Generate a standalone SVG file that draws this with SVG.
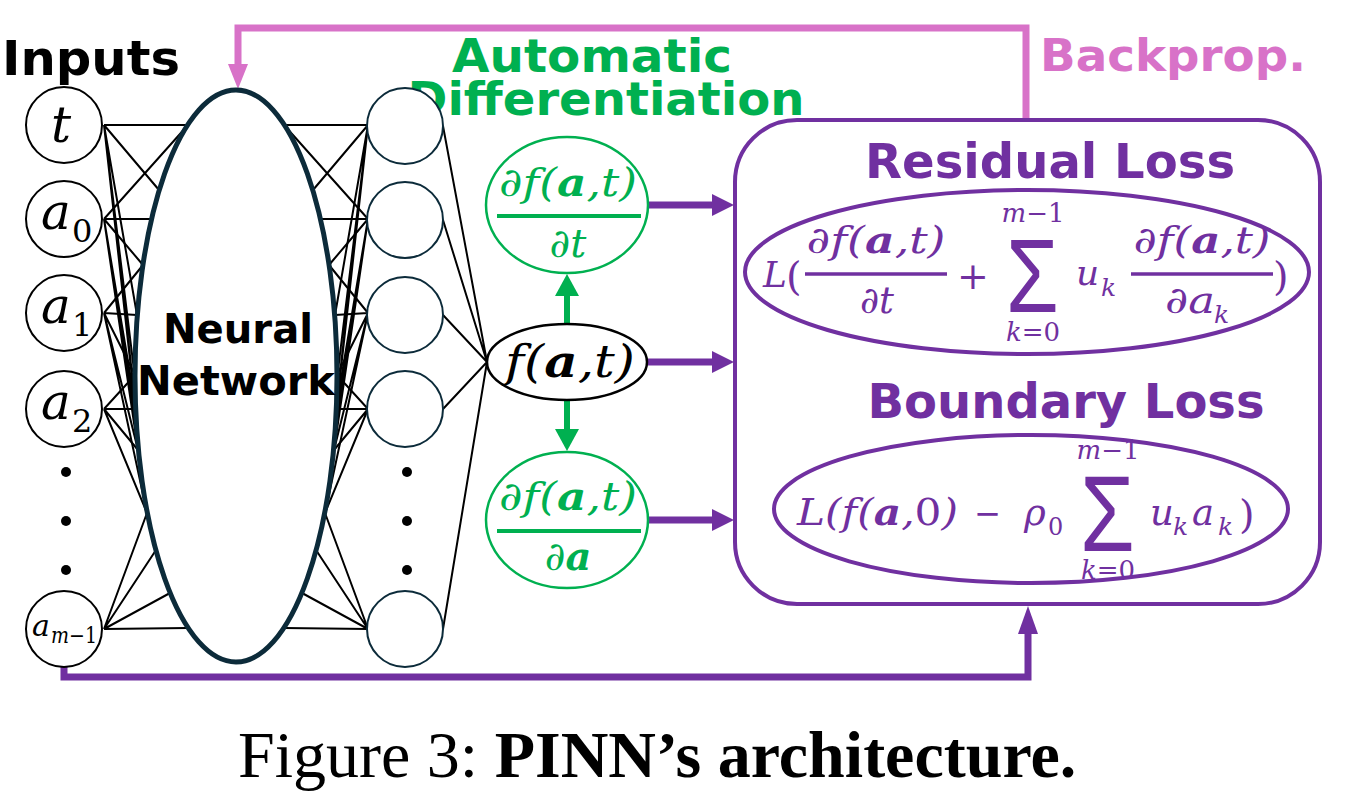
<svg xmlns="http://www.w3.org/2000/svg" xmlns:xlink="http://www.w3.org/1999/xlink" width="1346" height="795" viewBox="0 0 1346 795">
<style>
.lnk{stroke:#000;stroke-width:2;fill:none}
.inn{fill:#fff;stroke:#000;stroke-width:2}
.hid{fill:#fff;stroke:#0c2b3a;stroke-width:2}
.dot{fill:#000}
.hdr{font-family:"DejaVu Sans",Verdana,sans-serif;font-weight:bold}
.m{font-family:"DejaVu Serif","Liberation Serif",serif;font-style:italic}
.up{font-family:"DejaVu Serif","Liberation Serif",serif;font-style:normal}
.sig{font-family:"Liberation Sans",Arial,sans-serif;font-style:normal}
.g{fill:#00b050}
.p{fill:#7030a0}
.b{font-weight:bold}
</style>
<defs>
<marker id="hg" markerUnits="userSpaceOnUse" markerWidth="22" markerHeight="24" refX="0" refY="12" orient="auto" viewBox="0 0 22 24"><path d="M0,0 L22,12 L0,24 z" fill="#00b050"/></marker>
<marker id="hp" markerUnits="userSpaceOnUse" markerWidth="22" markerHeight="22" refX="0" refY="11" orient="auto" viewBox="0 0 22 22"><path d="M0,0 L22,11 L0,22 z" fill="#7030a0"/></marker>
<marker id="hp2" markerUnits="userSpaceOnUse" markerWidth="28" markerHeight="20" refX="0" refY="10" orient="auto" viewBox="0 0 28 20"><path d="M0,0 L28,10 L0,20 z" fill="#7030a0"/></marker>
<marker id="hk" markerUnits="userSpaceOnUse" markerWidth="25" markerHeight="20" refX="0" refY="10" orient="auto" viewBox="0 0 25 20"><path d="M0,0 L25,10 L0,20 z" fill="#d872c8"/></marker>
</defs>
<rect width="1346" height="795" fill="#fff"/>

<g id="connectors">
 <g id="in-links" class="lnk">
  <path d="M104,125 L188,125 M104,125 L159,190 M104,125 L137,315 M104,125 L136,409 M104,125 L147,513 M104,125 L156,550"/>
  <path d="M104,219 L188,125 M104,219 L151,219 M104,219 L143,265 M104,219 L136,409 M104,219 L138,450 M104,219 L156,550"/>
  <path d="M104,313 L143,265 M104,313 L137,315 M104,313 L135,375 M104,313 L138,450 M104,313 L147,513"/>
  <path d="M104,409 L135,375 M104,409 L136,409 M104,409 L138,450 M104,409 L147,513"/>
  <path d="M104,629 L147,513 M104,629 L156,550 M104,629 L170,593 M104,629 L188,628"/>
 </g>
 <use xlink:href="#in-links" href="#in-links" transform="matrix(-1 0 0 1 472 0)"/>
 <g id="out-links" class="lnk">
  <path d="M443,126 L487,362 M443,220 L487,362 M443,315 L487,362 M443,409 L487,362 M443,629 L487,362"/>
 </g>
 <g id="autodiff-arrows" stroke="#00b050" stroke-width="6" fill="none">
  <line x1="567" y1="324" x2="567" y2="296" marker-end="url(#hg)"/>
  <line x1="567" y1="401" x2="567" y2="429" marker-end="url(#hg)"/>
 </g>
 <g id="loss-arrows" stroke="#7030a0" stroke-width="7" fill="none">
  <line x1="648" y1="205" x2="712" y2="205" marker-end="url(#hp)"/>
  <line x1="648" y1="362" x2="712" y2="362" marker-end="url(#hp)"/>
  <line x1="648" y1="520" x2="712" y2="520" marker-end="url(#hp)"/>
 </g>
 <path id="backprop" d="M1026,121 V28 H238 V64" stroke="#d872c8" stroke-width="7" fill="none" marker-end="url(#hk)"/>
 <path id="input-feed" d="M64,667 V677 H1028 V634" stroke="#7030a0" stroke-width="7" fill="none" marker-end="url(#hp2)"/>
</g>

<g id="inputs-label"><text class="hdr" x="2" y="75" font-size="48" textLength="178" lengthAdjust="spacingAndGlyphs">Inputs</text></g>
<g id="autodiff-label" class="hdr g">
 <text x="592" y="72" font-size="46" text-anchor="middle" textLength="280" lengthAdjust="spacingAndGlyphs">Automatic</text>
 <text x="606" y="115" font-size="46" text-anchor="middle" textLength="397" lengthAdjust="spacingAndGlyphs">Differentiation</text>
</g>
<g id="backprop-label"><text class="hdr" x="1040" y="71" font-size="45" fill="#d872c8" textLength="266" lengthAdjust="spacingAndGlyphs">Backprop.</text></g>

<g id="node-t"><circle class="inn" cx="64" cy="125" r="38"/><text class="m" x="61" y="142" font-size="50" text-anchor="middle">t</text></g>
<g id="node-a0"><circle class="inn" cx="64" cy="219" r="38"/><text class="m" x="41" y="229" font-size="50">a</text><text class="up" x="72" y="242" font-size="32">0</text></g>
<g id="node-a1"><circle class="inn" cx="64" cy="313" r="38"/><text class="m" x="41" y="323" font-size="50">a</text><text class="up" x="72" y="336" font-size="32">1</text></g>
<g id="node-a2"><circle class="inn" cx="64" cy="409" r="38"/><text class="m" x="41" y="419" font-size="50">a</text><text class="up" x="72" y="432" font-size="32">2</text></g>
<g id="input-dots"><circle class="dot" cx="66" cy="472" r="5"/><circle class="dot" cx="66" cy="521" r="5"/><circle class="dot" cx="66" cy="570" r="5"/></g>
<g id="node-am1"><circle class="inn" cx="64" cy="629" r="38"/><text class="m" x="32" y="636" font-size="30">a</text><text x="51" y="643" font-size="22" textLength="46" lengthAdjust="spacingAndGlyphs"><tspan class="m">m</tspan><tspan class="up">−1</tspan></text></g>

<g id="neural-network">
 <ellipse cx="236" cy="376" rx="101" ry="286" fill="#fff" stroke="#0c2b3a" stroke-width="5"/>
 <text class="hdr" x="238" y="343" font-size="40" text-anchor="middle" textLength="150" lengthAdjust="spacingAndGlyphs">Neural</text>
 <text class="hdr" x="236" y="395" font-size="40" text-anchor="middle" textLength="198" lengthAdjust="spacingAndGlyphs">Network</text>
</g>

<g id="hidden-1"><circle class="hid" cx="405" cy="126" r="38"/></g>
<g id="hidden-2"><circle class="hid" cx="405" cy="220" r="38"/></g>
<g id="hidden-3"><circle class="hid" cx="405" cy="315" r="38"/></g>
<g id="hidden-4"><circle class="hid" cx="405" cy="409" r="38"/></g>
<g id="hidden-dots"><circle class="dot" cx="407" cy="472" r="5"/><circle class="dot" cx="407" cy="521" r="5"/><circle class="dot" cx="407" cy="570" r="5"/></g>
<g id="hidden-5"><circle class="hid" cx="405" cy="629" r="38"/></g>

<g id="node-f">
 <ellipse cx="567" cy="362" rx="80" ry="38" fill="#fff" stroke="#000" stroke-width="2.5"/>
 <text class="m" x="570" y="377" font-size="44" text-anchor="middle" textLength="130" lengthAdjust="spacingAndGlyphs">f(<tspan class="b">a</tspan>,t)</text>
</g>
<g id="node-dfdt">
 <ellipse cx="567" cy="205" rx="81" ry="68" fill="#fff" stroke="#00b050" stroke-width="2.5"/>
 <text class="m g" x="568" y="196" font-size="40" text-anchor="middle" textLength="138" lengthAdjust="spacingAndGlyphs">∂f(<tspan class="b">a</tspan>,t)</text>
 <line x1="497" y1="216" x2="641" y2="216" stroke="#00b050" stroke-width="4"/>
 <text class="m g" x="568" y="257" font-size="40" text-anchor="middle">∂t</text>
</g>
<g id="node-dfda">
 <ellipse cx="567" cy="520" rx="81" ry="68" fill="#fff" stroke="#00b050" stroke-width="2.5"/>
 <text class="m g" x="568" y="510" font-size="40" text-anchor="middle" textLength="138" lengthAdjust="spacingAndGlyphs">∂f(<tspan class="b">a</tspan>,t)</text>
 <line x1="497" y1="531" x2="641" y2="531" stroke="#00b050" stroke-width="4"/>
 <text class="m g" x="568" y="570" font-size="40" text-anchor="middle">∂<tspan class="b">a</tspan></text>
</g>

<g id="loss-box">
 <rect x="735" y="120" width="585" height="484" rx="62" ry="62" fill="none" stroke="#7030a0" stroke-width="4"/>
 <text class="hdr p" x="1050" y="178" font-size="48" text-anchor="middle" textLength="370" lengthAdjust="spacingAndGlyphs">Residual Loss</text>
 <text class="hdr p" x="1066" y="418" font-size="48" text-anchor="middle" textLength="397" lengthAdjust="spacingAndGlyphs">Boundary Loss</text>
</g>

<g id="residual-loss">
 <ellipse cx="1027" cy="272" rx="282" ry="82" fill="none" stroke="#7030a0" stroke-width="4"/>
 <text class="m p" x="763" y="287" font-size="36">L</text>
 <text class="up p" x="786" y="290" font-size="40">(</text>
 <text class="m p" x="876" y="253" font-size="37" text-anchor="middle" textLength="139" lengthAdjust="spacingAndGlyphs">∂f(<tspan class="b">a</tspan>,t)</text>
 <line x1="805" y1="274" x2="947" y2="274" stroke="#7030a0" stroke-width="3.5"/>
 <text class="m p" x="877" y="313" font-size="37" text-anchor="middle">∂t</text>
 <text class="up p" x="973" y="289" font-size="38" text-anchor="middle">+</text>
 <text class="sig p" x="0" y="0" font-size="104" transform="translate(1006,312) scale(0.82,1)">Σ</text>
 <text class="p" x="1033" y="222" font-size="26" text-anchor="middle"><tspan class="m">m</tspan><tspan class="up">−1</tspan></text>
 <text class="p" x="1033" y="341" font-size="26" text-anchor="middle"><tspan class="m">k</tspan><tspan class="up">=0</tspan></text>
 <text class="m p" x="1076" y="285" font-size="36">u</text>
 <text class="m p" x="1101" y="296" font-size="25">k</text>
 <text class="m p" x="1202" y="253" font-size="37" text-anchor="middle" textLength="137" lengthAdjust="spacingAndGlyphs">∂f(<tspan class="b">a</tspan>,t)</text>
 <line x1="1131" y1="274" x2="1273" y2="274" stroke="#7030a0" stroke-width="3.5"/>
 <text class="m p" x="1165" y="313" font-size="37" textLength="50" lengthAdjust="spacingAndGlyphs">∂a</text>
 <text class="m p" x="1214" y="323" font-size="25">k</text>
 <text class="up p" x="1273" y="290" font-size="40">)</text>
</g>

<g id="boundary-loss">
 <ellipse cx="1031" cy="509" rx="257" ry="74" fill="none" stroke="#7030a0" stroke-width="4"/>
 <text class="m p" x="797" y="525" font-size="37" textLength="161" lengthAdjust="spacingAndGlyphs">L(f(<tspan class="b">a</tspan>,<tspan class="up">0</tspan>)</text>
 <text class="up p" x="974" y="525" font-size="34" textLength="27" lengthAdjust="spacingAndGlyphs">−</text>
 <text class="m p" x="1024" y="525" font-size="37">ρ</text>
 <text class="up p" x="1048" y="535" font-size="24">0</text>
 <text class="sig p" x="0" y="0" font-size="108" transform="translate(1080,551) scale(0.82,1)">Σ</text>
 <text class="p" x="1108" y="459" font-size="26" text-anchor="middle"><tspan class="m">m</tspan><tspan class="up">−1</tspan></text>
 <text class="p" x="1108" y="579" font-size="26" text-anchor="middle"><tspan class="m">k</tspan><tspan class="up">=0</tspan></text>
 <text class="m p" x="1150" y="525" font-size="37">u</text>
 <text class="m p" x="1173" y="535" font-size="25">k</text>
 <text class="m p" x="1192" y="525" font-size="37">a</text>
 <text class="m p" x="1218" y="535" font-size="25">k</text>
 <text class="up p" x="1239" y="528" font-size="40">)</text>
</g>

<g id="caption"><text x="238" y="777" font-family="'Liberation Serif','Times New Roman',serif" font-size="66" fill="#000">Figure 3: <tspan font-weight="bold">PINN’s architecture.</tspan></text></g>
</svg>
